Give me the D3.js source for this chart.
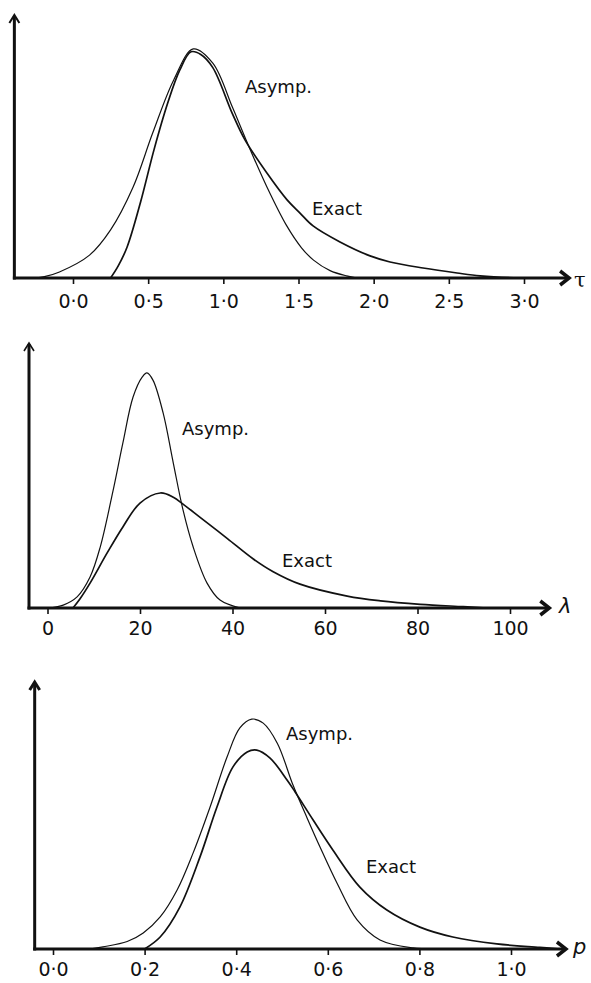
<!DOCTYPE html>
<html>
<head>
<meta charset="utf-8">
<script src="https://cdn.jsdelivr.net/npm/d3@7/dist/d3.min.js"></script>
<style>
body { margin: 0; background: #fff; }
svg { display: block; }
text { font-family: "DejaVu Sans", sans-serif; fill: #111; }
</style>
</head>
<body>
<div id="chart"></div>
<script>
// --- data (x value, relative density) ---
var tauTicks = [0, 0.5, 1, 1.5, 2, 2.5, 3];
var tauAsymp = [[-0.25,0],[-0.19,0.005],[-0.09,0.023],[0.11,0.087],[0.25,0.183],[0.40,0.346],
  [0.53,0.551],[0.67,0.753],[0.80,0.871],[0.93,0.817],[1.06,0.65],[1.16,0.513],[1.29,0.346],
  [1.42,0.20],[1.52,0.115],[1.60,0.068],[1.71,0.028],[1.82,0.008],[1.89,0]];
var tauExact = [[0.25,0],[0.30,0.045],[0.36,0.118],[0.45,0.29],[0.54,0.49],[0.63,0.665],
  [0.71,0.79],[0.785,0.86],[0.85,0.85],[0.93,0.80],[1.06,0.625],[1.144,0.525],[1.29,0.399],
  [1.424,0.297],[1.51,0.247],[1.597,0.198],[1.776,0.137],[1.976,0.084],[2.109,0.061],[2.329,0.038],
  [2.555,0.019],[2.708,0.008],[2.93,0.001],[3.25,0]];

var lamTicks = [0, 20, 40, 60, 80, 100];
var lamAsymp = [[0.5,0],[3.4,0.011],[6.4,0.042],[9.2,0.117],[11.4,0.23],[14.2,0.445],[16.3,0.623],
  [18.5,0.796],[20.5,0.872],[21.5,0.887],[22.8,0.86],[25.0,0.736],[27.2,0.547],[29.3,0.37],
  [31.5,0.23],[34.5,0.094],[37.3,0.03],[41.7,0]];
var lamExact = [[5.5,0],[7,0.034],[9.2,0.094],[12.9,0.208],[16.3,0.306],[20.0,0.396],[24.4,0.434],
  [27.2,0.418],[29.3,0.392],[33.0,0.342],[38.9,0.262],[44.5,0.185],[48.8,0.137],[54.6,0.09],
  [64.8,0.045],[72.0,0.027],[80.6,0.014],[89.9,0.005],[95,0]];

var pTicks = [0, 0.2, 0.4, 0.6, 0.8, 1.0];
var pAsymp = [[0.08,0],[0.109,0.008],[0.162,0.028],[0.197,0.06],[0.234,0.12],[0.271,0.221],
  [0.306,0.36],[0.343,0.532],[0.38,0.719],[0.408,0.828],[0.434,0.861],[0.459,0.846],[0.49,0.77],
  [0.524,0.614],[0.555,0.49],[0.583,0.382],[0.62,0.247],[0.664,0.109],[0.714,0.034],[0.786,0.004],[0.83,0]];
var pExact = [[0.20,0],[0.234,0.045],[0.277,0.157],[0.321,0.345],[0.358,0.532],[0.393,0.682],
  [0.424,0.738],[0.445,0.745],[0.474,0.715],[0.511,0.633],[0.528,0.59],[0.568,0.483],[0.611,0.371],
  [0.67,0.232],[0.729,0.146],[0.801,0.082],[0.873,0.045],[0.969,0.019],[1.063,0.006],[1.107,0]];

var dotFmt = function(d) { return d3.format(".1f")(d).replace(".", "\u00b7"); };

// layout of the three panels
var panels = [
  {ticks: tauTicks, asymp: tauAsymp, exact: tauExact, fmt: dotFmt,
   dom: [0, 3], rng: [73, 524], ext: [-0.39, 3.3], base: 278, top: 15, pad: 11,
   sym: "\u03c4", symStyle: "normal", symFont: "DejaVu Serif", symX: 574, symY: 287,
   aLab: [245, 93], eLab: [312, 215], yArrowW: 2},
  {ticks: lamTicks, asymp: lamAsymp, exact: lamExact, fmt: d3.format("d"),
   dom: [0, 100], rng: [47.5, 510], ext: [-4, 108.5], base: 608, top: 343, pad: 8,
   sym: "\u03bb", symStyle: "italic", symFont: "DejaVu Sans", symX: 559, symY: 613,
   aLab: [182, 435], eLab: [282, 567], yArrowW: 1.6},
  {ticks: pTicks, asymp: pAsymp, exact: pExact, fmt: dotFmt,
   dom: [0, 1], rng: [53, 511], ext: [-0.04, 1.12], base: 949, top: 682, pad: 8,
   sym: "p", symStyle: "italic", symFont: "DejaVu Sans", symX: 573, symY: 954,
   aLab: [286, 740], eLab: [366, 873], yArrowW: 3}
];

var svg = d3.select("#chart").append("svg")
  .attr("width", 591)
  .attr("height", 983);

panels.forEach(function(p) {
  var x = d3.scaleLinear().domain(p.dom).range(p.rng);
  var y = d3.scaleLinear().domain([0, 1]).range([p.base, p.top]);
  var g = svg.append("g");

  var x0 = x(p.ext[0]), x1 = x(p.ext[1]);

  // ticks + labels
  var ax = g.append("g")
    .attr("transform", "translate(0," + p.base + ")")
    .call(d3.axisBottom(x).tickValues(p.ticks).tickFormat(p.fmt).tickSize(6).tickPadding(p.pad));
  ax.select(".domain").remove();
  ax.selectAll(".tick line").attr("stroke", "#111").attr("stroke-width", 1.6);
  ax.selectAll(".tick text")
    .style("font-family", "'DejaVu Sans', sans-serif")
    .style("font-size", "19px")
    .attr("fill", "#111");

  // curves
  var line = d3.line()
    .x(function(d) { return x(d[0]); })
    .y(function(d) { return Math.min(y(d[1]), p.base); })
    .curve(d3.curveCatmullRom.alpha(0.5));

  g.append("path").datum(p.asymp)
    .attr("d", line).attr("fill", "none")
    .attr("stroke", "#111").attr("stroke-width", 1.2);
  g.append("path").datum(p.exact)
    .attr("d", line).attr("fill", "none")
    .attr("stroke", "#111").attr("stroke-width", 1.7);

  // x axis with arrow
  g.append("line")
    .attr("x1", x0 - 1.5).attr("x2", x1 - 2)
    .attr("y1", p.base).attr("y2", p.base)
    .attr("stroke", "#111").attr("stroke-width", 3);
  g.append("path")
    .attr("d", "M" + (x1 - 9) + "," + (p.base - 7) + "L" + x1 + "," + p.base + "L" + (x1 - 9) + "," + (p.base + 7))
    .attr("fill", "none").attr("stroke", "#111").attr("stroke-width", 3.5)
    .attr("stroke-linejoin", "miter");

  // y axis with arrow
  g.append("line")
    .attr("x1", x0).attr("x2", x0)
    .attr("y1", p.base + 1.5).attr("y2", p.top + 1)
    .attr("stroke", "#111").attr("stroke-width", 3);
  g.append("path")
    .attr("d", "M" + (x0 - 5) + "," + (p.top + 8) + "L" + x0 + "," + p.top + "L" + (x0 + 5) + "," + (p.top + 8))
    .attr("fill", "none").attr("stroke", "#111").attr("stroke-width", p.yArrowW);

  // axis symbol
  g.append("text")
    .attr("x", p.symX).attr("y", p.symY)
    .style("font-family", p.symFont)
    .style("font-style", p.symStyle)
    .style("font-size", "21px")
    .text(p.sym);

  // curve labels
  g.append("text").attr("x", p.aLab[0]).attr("y", p.aLab[1])
    .style("font-size", "18px").text("Asymp.");
  g.append("text").attr("x", p.eLab[0]).attr("y", p.eLab[1])
    .style("font-size", "18px").text("Exact");
});
</script>
</body>
</html>
